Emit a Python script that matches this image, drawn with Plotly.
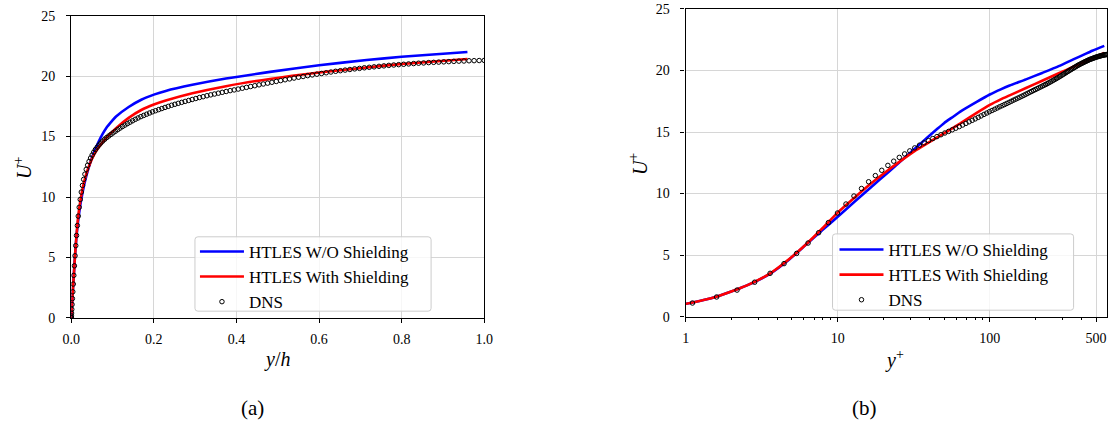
import plotly.graph_objects as go
import math

# ---------------- data ----------------
re_tau = 590.0

# DNS (wall-normal positions in y/h, mean velocity U+)
dns_y_over_h = [
    0.0, 0.00008, 0.0003, 0.00068, 0.0012, 0.00188, 0.00271, 0.00369, 0.00482, 0.00609,
    0.00752, 0.00910, 0.01082, 0.01270, 0.01472, 0.01689, 0.01921, 0.02168, 0.02430, 0.02706,
    0.02997, 0.03302, 0.03622, 0.03957, 0.04306, 0.04669, 0.05047, 0.05439, 0.05846, 0.06266,
    0.06701, 0.07149, 0.07612, 0.08089, 0.08579, 0.09083, 0.09601, 0.10133, 0.10678, 0.11236,
    0.11808, 0.12393, 0.12991, 0.13603, 0.14227, 0.14864, 0.15515, 0.16178, 0.16853, 0.17541,
    0.18242, 0.18954, 0.19679, 0.20416, 0.21165, 0.21926, 0.22699, 0.23483, 0.24279, 0.25086,
    0.25905, 0.26735, 0.27575, 0.28427, 0.29289, 0.30162, 0.31046, 0.31940, 0.32844, 0.33758,
    0.34683, 0.35617, 0.36561, 0.37514, 0.38477, 0.39449, 0.40430, 0.41420, 0.42419, 0.43427,
    0.44443, 0.45468, 0.46500, 0.47541, 0.48590, 0.49646, 0.50710, 0.51782, 0.52860, 0.53946,
    0.55039, 0.56138, 0.57244, 0.58357, 0.59476, 0.60601, 0.61732, 0.62868, 0.64010, 0.65158,
    0.66311, 0.67469, 0.68632, 0.69799, 0.70972, 0.72148, 0.73329, 0.74513, 0.75702, 0.76894,
    0.78090, 0.79289, 0.80491, 0.81696, 0.82904, 0.84114, 0.85327, 0.86542, 0.87759, 0.88978,
    0.90198, 0.91420, 0.92644, 0.93868, 0.95093, 0.96320, 0.97546, 0.98773, 1.0,
]
dns_u_plus = [
    0.0, 0.044, 0.18, 0.40, 0.71, 1.11, 1.60, 2.16, 2.80, 3.52,
    4.31, 5.14, 5.98, 6.82, 7.64, 8.42, 9.15, 9.80, 10.41, 10.96,
    11.46, 11.89, 12.29, 12.63, 12.94, 13.22, 13.47, 13.71, 13.93, 14.12,
    14.30, 14.47, 14.63, 14.78, 14.92, 15.05, 15.18, 15.31, 15.44, 15.57,
    15.70, 15.83, 15.95, 16.07, 16.19, 16.31, 16.43, 16.54, 16.65, 16.75,
    16.85, 16.95, 17.05, 17.14, 17.23, 17.32, 17.41, 17.50, 17.59, 17.67,
    17.75, 17.83, 17.91, 17.99, 18.07, 18.15, 18.23, 18.30, 18.38, 18.45,
    18.52, 18.59, 18.66, 18.73, 18.80, 18.86, 18.93, 19.00, 19.07, 19.14,
    19.21, 19.28, 19.35, 19.42, 19.49, 19.56, 19.63, 19.70, 19.77, 19.84,
    19.91, 19.97, 20.04, 20.10, 20.16, 20.22, 20.28, 20.34, 20.40, 20.45,
    20.50, 20.55, 20.60, 20.64, 20.69, 20.73, 20.77, 20.81, 20.85, 20.89,
    20.92, 20.95, 20.98, 21.01, 21.04, 21.07, 21.09, 21.12, 21.14, 21.16,
    21.18, 21.20, 21.22, 21.24, 21.25, 21.27, 21.28, 21.29, 21.30,
]

# HTLES without shielding
wo_y_plus = [0.0, 0.5, 1.47, 2.53, 3.6, 4.8, 6.2, 8.0, 10.0, 13.0, 16.7, 21.4, 27.5, 32.0,
             39.0, 45.0, 50.0, 58.0, 64.0, 82.0, 100.0, 118.0, 135.0, 173.0, 221.0, 284.0,
             354.0, 422.0, 472.0, 566.0]
wo_u_plus = [0.0, 0.5, 1.49, 2.54, 3.5, 4.65, 5.86, 7.07, 8.12, 9.37, 10.55, 11.72, 12.91, 13.63,
             14.57, 15.24, 15.72, 16.28, 16.66, 17.45, 18.05, 18.47, 18.78, 19.28, 19.8, 20.35,
             20.9, 21.33, 21.6, 22.0]

# HTLES with shielding
w_y_plus = [0.0, 0.5, 1.47, 2.53, 3.6, 4.8, 6.2, 8.0, 10.0, 13.0, 16.7, 21.4, 27.5, 32.0,
            39.0, 50.0, 64.0, 82.0, 100.0, 118.0, 135.0, 173.0, 221.0, 284.0, 354.0,
            422.0, 472.0, 566.0]
w_u_plus = [0.0, 0.5, 1.49, 2.54, 3.52, 4.68, 5.88, 7.22, 8.45, 9.7, 10.85, 11.9, 12.88, 13.45,
            14.1, 14.9, 15.7, 16.55, 17.2, 17.65, 17.98, 18.58, 19.17, 19.77, 20.3,
            20.72, 21.0, 21.42]

labels = ["HTLES W/O Shielding", "HTLES With Shielding", "DNS"]
left_x_ticks = [0.0, 0.2, 0.4, 0.6, 0.8, 1.0]
right_x_ticks = [1, 10, 100, 500]
right_x_minor = [2, 3, 4, 5, 6, 7, 8, 9, 20, 30, 40, 50, 60, 70, 80, 90, 200, 300, 400]
u_ticks = [0, 5, 10, 15, 20, 25]

# ---------------- figure ----------------
W, H = 1118, 436
FONT = "Liberation Serif, Times New Roman, Times, serif"
BLUE = "rgb(0,0,255)"
RED = "rgb(255,0,0)"
GRID = "rgb(214,214,214)"


def px_x(p):
    return p / W


def px_y(p):
    return 1 - p / H


fig = go.Figure()

line_kw = dict(shape="spline", smoothing=0.6, width=2.6)
dns_marker = dict(symbol="circle-open", size=4.5, color="black",
                  line=dict(width=1, color="black"))

# left panel (vs y/h)
fig.add_trace(go.Scatter(x=[v / re_tau for v in wo_y_plus], y=wo_u_plus, mode="lines",
                         line=dict(color=BLUE, **line_kw), name=labels[0],
                         xaxis="x", yaxis="y", legend="legend"))
fig.add_trace(go.Scatter(x=[v / re_tau for v in w_y_plus], y=w_u_plus, mode="lines",
                         line=dict(color=RED, **line_kw), name=labels[1],
                         xaxis="x", yaxis="y", legend="legend"))
fig.add_trace(go.Scatter(x=dns_y_over_h, y=dns_u_plus, mode="markers", marker=dns_marker,
                         name=labels[2], xaxis="x", yaxis="y", legend="legend"))

# right panel (vs y+)
fig.add_trace(go.Scatter(x=wo_y_plus, y=wo_u_plus, mode="lines",
                         line=dict(color=BLUE, **line_kw), name=labels[0],
                         xaxis="x2", yaxis="y2", legend="legend2"))
fig.add_trace(go.Scatter(x=w_y_plus, y=w_u_plus, mode="lines",
                         line=dict(color=RED, **line_kw), name=labels[1],
                         xaxis="x2", yaxis="y2", legend="legend2"))
fig.add_trace(go.Scatter(x=[v * re_tau for v in dns_y_over_h], y=dns_u_plus, mode="markers",
                         marker=dns_marker, name=labels[2],
                         xaxis="x2", yaxis="y2", legend="legend2"))

axis_common = dict(showgrid=True, gridcolor=GRID, gridwidth=1, showline=True,
                   linecolor="black", linewidth=1.3, mirror=True, ticks="outside",
                   ticklen=4, tickwidth=1, tickcolor="black", zeroline=False,
                   tickfont=dict(family=FONT, size=14, color="black"))

legend_common = dict(xanchor="left", yanchor="top", bgcolor="rgba(0,0,0,0)",
                     borderwidth=0, itemwidth=44, tracegroupgap=0,
                     font=dict(family=FONT, size=17, color="black"))

fig.update_layout(
    width=W, height=H, margin=dict(l=0, r=0, t=0, b=0),
    plot_bgcolor="white", paper_bgcolor="white",
    font=dict(family=FONT, color="black"),
    xaxis=dict(domain=[px_x(63.3), px_x(483)], range=[0, 1], anchor="y",
               tickvals=left_x_ticks, ticktext=[f"{v:.1f}" for v in left_x_ticks],
               ticklabelstandoff=4, **axis_common),
    yaxis=dict(domain=[px_y(322), px_y(9)], range=[0, 25], anchor="x",
               tickvals=u_ticks, ticktext=[str(v) for v in u_ticks],
               ticklabelstandoff=8, **axis_common),
    xaxis2=dict(type="log", domain=[px_x(687.7), px_x(1116)], range=[0, math.log10(re_tau)],
                anchor="y2", tickvals=right_x_ticks, ticktext=[str(v) for v in right_x_ticks],
                minor=dict(ticks="outside", ticklen=2.5, tickwidth=0.8, tickcolor="black",
                           tickvals=right_x_minor, showgrid=False),
                ticklabelstandoff=4, **axis_common),
    yaxis2=dict(domain=[px_y(320.7), px_y(2)], range=[0, 25], anchor="x2",
                tickvals=u_ticks, ticktext=[str(v) for v in u_ticks],
                ticklabelstandoff=8, **axis_common),
    legend=dict(x=px_x(189), y=px_y(235), **legend_common),
    legend2=dict(x=px_x(839), y=px_y(233), **legend_common),
    showlegend=True,
)


def rounded_box(x0, y0, x1, y1, r=3):
    X0, X1 = px_x(x0), px_x(x1)
    Y0, Y1 = px_y(y0), px_y(y1)
    rx, ry = r / W, r / H
    return (f"M{X0 + rx},{Y0} L{X1 - rx},{Y0} Q{X1},{Y0} {X1},{Y0 - ry} "
            f"L{X1},{Y1 + ry} Q{X1},{Y1} {X1 - rx},{Y1} L{X0 + rx},{Y1} "
            f"Q{X0},{Y1} {X0},{Y1 + ry} L{X0},{Y0 - ry} Q{X0},{Y0} {X0 + rx},{Y0} Z")


for box in [(189, 238, 429, 315), (837, 235, 1082, 314)]:
    fig.add_shape(type="path", path=rounded_box(*box), xref="paper", yref="paper",
                  fillcolor="rgba(255,255,255,0.8)", line=dict(color="rgb(204,204,204)", width=1),
                  layer="above")

ann_font = dict(family=FONT, size=20, color="black")
annotations = [
    dict(text="<i>y</i>/<i>h</i>", x=px_x(272), y=px_y(365)),
    dict(text="<i>U</i><sup>+</sup>", x=px_x(14), y=px_y(167), textangle=-90),
    dict(text="<i>y</i><sup>+</sup>", x=px_x(900), y=px_y(365)),
    dict(text="<i>U</i><sup>+</sup>", x=px_x(640), y=px_y(163), textangle=-90),
    dict(text="(a)", x=px_x(247), y=px_y(415), font=dict(family=FONT, size=21, color="black")),
    dict(text="(b)", x=px_x(869), y=px_y(415), font=dict(family=FONT, size=21, color="black")),
]
for a in annotations:
    a.setdefault("font", ann_font)
    fig.add_annotation(xref="paper", yref="paper", xanchor="center", yanchor="middle",
                       showarrow=False, **a)

fig.write_html("out.html")
